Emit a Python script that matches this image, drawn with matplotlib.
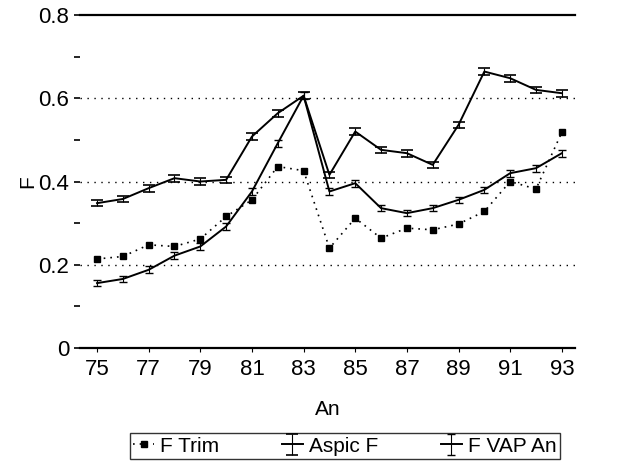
import numpy as np
import matplotlib.pyplot as plt

plt.rcParams["font.family"] = ["Liberation Sans", "DejaVu Sans"]

# Data
years = list(range(75, 94))
f_trim = [0.214, 0.220, 0.248, 0.244, 0.262, 0.316, 0.356, 0.436, 0.426, 0.240,
          0.312, 0.264, 0.288, 0.284, 0.298, 0.328, 0.400, 0.382, 0.518]
aspic_f = [0.348, 0.358, 0.384, 0.408, 0.400, 0.404, 0.508, 0.564, 0.606, 0.416,
           0.520, 0.476, 0.468, 0.440, 0.536, 0.664, 0.648, 0.620, 0.612]
f_vap = [0.156, 0.166, 0.188, 0.222, 0.244, 0.292, 0.376, 0.492, 0.606, 0.376,
         0.396, 0.336, 0.324, 0.336, 0.356, 0.380, 0.420, 0.432, 0.468]
xtick_labels = [str(y) for y in range(75, 94, 2)]

fig = plt.figure(figsize=(6.22, 4.66), dpi=100)
ax = fig.add_axes([0.129, 0.253, 0.795, 0.715])

# dotted reference lines
for g in [0.2, 0.4, 0.6]:
    ax.axhline(g, color="black", linestyle=(0, (1, 4)), linewidth=1.0, zorder=1)

ax.plot(years, f_trim, linestyle=(0, (1, 3)), color="black", linewidth=1.2,
        marker="s", markersize=4, label="F Trim")
ax.errorbar(years, aspic_f, yerr=0.008, fmt="-", color="black", linewidth=1.4,
            elinewidth=0.8, capsize=4, capthick=1.2, label="Aspic F")
ax.errorbar(years, f_vap, yerr=0.008, fmt="-", color="black", linewidth=1.4,
            elinewidth=0.8, capsize=3, capthick=1.0, label="F VAP An")

ax.set_xlim(74.35, 93.5)
ax.set_ylim(0, 0.8)
ax.set_xticks(range(75, 94, 2))
ax.set_xticklabels(xtick_labels)
ax.set_yticks([0, 0.2, 0.4, 0.6, 0.8])
ax.set_yticklabels(["0", "0.2", "0.4", "0.6", "0.8"])
ax.set_yticks(np.arange(0.1, 0.8, 0.2), minor=True)

ax.spines["left"].set_visible(False)
ax.spines["right"].set_visible(False)
ax.spines["top"].set_linewidth(1.6)
ax.spines["bottom"].set_linewidth(1.6)
ax.tick_params(axis="y", which="both", length=4, width=1.2, labelsize=16, pad=4)
ax.tick_params(axis="x", length=3, labelsize=16, pad=5)

ax.set_xlabel("An", fontsize=15, labelpad=14)
ax.set_ylabel("F", fontsize=15, labelpad=1)

leg = ax.legend(loc="upper center", bbox_to_anchor=(0.535, -0.225), ncol=3,
                fontsize=15, frameon=True, fancybox=False, handlelength=1.0,
                handletextpad=0.3, columnspacing=3.0, borderpad=0.15)
leg.get_frame().set_edgecolor("black")
leg.get_frame().set_linewidth(1.0)

fig.savefig("out.png", dpi=100)
